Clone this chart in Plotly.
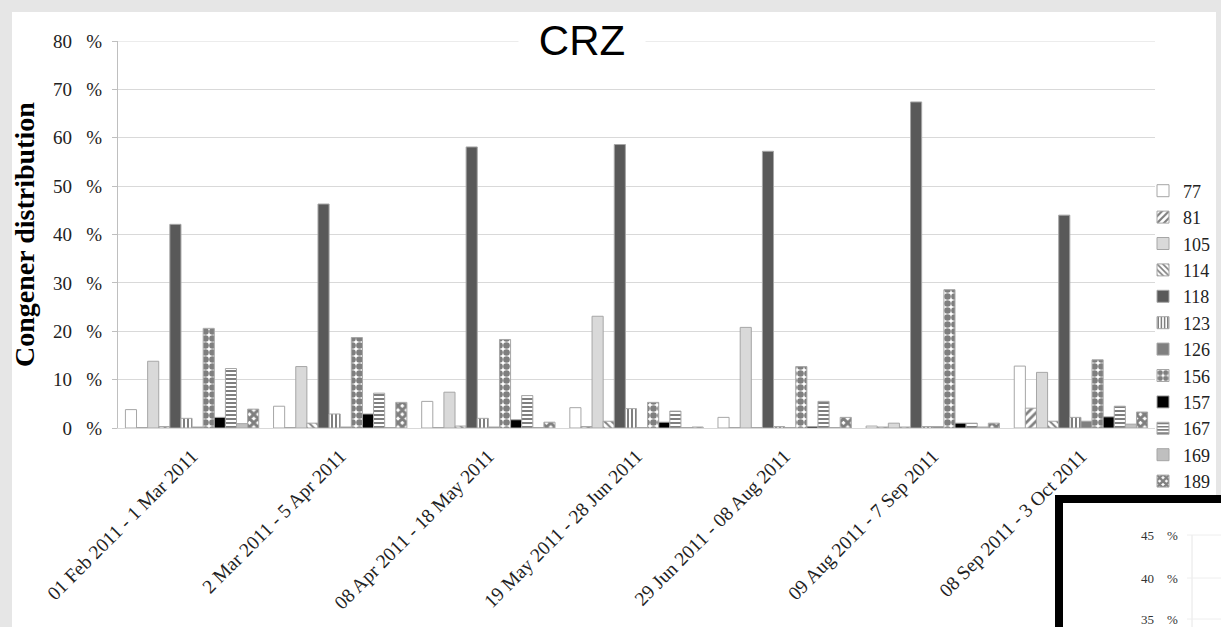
import plotly.graph_objects as go

periods = [
    "01 Feb 2011 - 1 Mar 2011",
    "2 Mar 2011 - 5 Apr 2011",
    "08 Apr 2011 - 18 May 2011",
    "19 May 2011 - 28 Jun 2011",
    "29 Jun 2011 - 08 Aug 2011",
    "09 Aug 2011 - 7 Sep 2011",
    "08 Sep 2011 - 3 Oct 2011",
]

congeners = ["77", "81", "105", "114", "118", "123", "126", "156", "157", "167", "169", "189"]

v77 = [3.8, 4.5, 5.5, 4.2, 2.2, 0.4, 12.8]
v81 = [0.1, 0.1, 0.1, 0.3, 0.1, 0.2, 4.1]
v105 = [13.8, 12.7, 7.4, 23.1, 20.8, 1.0, 11.5]
v114 = [0.3, 1.0, 0.4, 1.4, 0.1, 0.2, 1.4]
v118 = [42.1, 46.3, 58.1, 58.6, 57.2, 67.4, 44.0]
v123 = [2.0, 2.9, 2.0, 4.0, 0.3, 0.3, 2.2]
v126 = [0.2, 0.2, 0.2, 0.1, 0.1, 0.3, 1.4]
v156 = [20.6, 18.7, 18.3, 5.3, 12.7, 28.6, 14.1]
v157 = [2.2, 2.9, 1.7, 1.2, 0.3, 1.0, 2.3]
v167 = [12.3, 7.2, 6.7, 3.5, 5.5, 1.0, 4.5]
v169 = [0.9, 0.1, 0.1, 0.1, 0.1, 0.2, 0.8]
v189 = [3.9, 5.3, 1.2, 0.2, 2.2, 1.0, 3.3]

values = [v77, v81, v105, v114, v118, v123, v126, v156, v157, v167, v169, v189]

y_ticks = [0, 10, 20, 30, 40, 50, 60, 70, 80]
NB = "\u00a0"
y_ticktext = [f"{t}{NB * 3}%" for t in y_ticks]
inset_ticks = ["45", "40", "35"]

styles = {
    "77": dict(color="#ffffff"),
    "81": dict(color="#ffffff", pattern=dict(shape="/", fgcolor="#000000", bgcolor="#ffffff", size=6, solidity=0.45)),
    "105": dict(color="#d9d9d9"),
    "114": dict(color="#ffffff", pattern=dict(shape="\\", fgcolor="#000000", bgcolor="#ffffff", size=5, solidity=0.4)),
    "118": dict(color="#595959"),
    "123": dict(color="#ffffff", pattern=dict(shape="|", fgcolor="#000000", bgcolor="#ffffff", size=4, solidity=0.5)),
    "126": dict(color="#808080"),
    "156": dict(color="#ffffff", pattern=dict(shape=".", fgcolor="#000000", bgcolor="#ffffff", size=7, solidity=0.7)),
    "157": dict(color="#000000"),
    "167": dict(color="#ffffff", pattern=dict(shape="-", fgcolor="#000000", bgcolor="#ffffff", size=4, solidity=0.5)),
    "169": dict(color="#bfbfbf"),
    "189": dict(color="#ffffff", pattern=dict(shape="x", fgcolor="#000000", bgcolor="#ffffff", size=6, solidity=0.75)),
}

fig = go.Figure()
for name, vals in zip(congeners, values):
    st = styles[name]
    marker = dict(color=st["color"], line=dict(color="#a6a6a6", width=1))
    if "pattern" in st:
        marker["pattern"] = st["pattern"]
    fig.add_trace(go.Bar(name=name, x=periods, y=vals, marker=marker))

W, H = 1221, 627
L, R, T, B = 118, 66, 41, 199
pw, ph = W - L - R, H - T - B


def px_x(x):
    return (x - L) / pw


def px_y(y):
    return (H - B - y) / ph


SERIF = "Liberation Serif, Times New Roman, serif"

shapes = [
    # white card over gray page
    dict(type="rect", xref="paper", yref="paper", x0=px_x(12), x1=px_x(1216), y0=px_y(640), y1=px_y(12),
         fillcolor="#ffffff", line=dict(width=0), layer="below"),
    # top gridline at 80 %
    dict(type="line", xref="paper", yref="y", x0=0, x1=1, y0=80, y1=80,
         line=dict(color="#d9d9d9", width=1), layer="below"),
    # inset panel
    dict(type="rect", xref="paper", yref="paper", x0=px_x(1059), x1=px_x(1240), y0=px_y(650), y1=px_y(499),
         fillcolor="#ffffff", line=dict(color="#000000", width=8), layer="above"),
    dict(type="line", xref="paper", yref="paper", x0=px_x(1192), x1=px_x(1192), y0=px_y(627), y1=px_y(535),
         line=dict(color="#e6e6e6", width=1), layer="above"),
]
annotations = [
    dict(text="CRZ", xref="paper", yref="paper", x=px_x(582), y=px_y(40), showarrow=False,
         font=dict(family="Liberation Sans, Arial", size=42, color="#000000"),
         bgcolor="#ffffff", borderpad=0, xanchor="center", yanchor="middle",
         width=126, height=40),
    dict(text="<b>Congener distribution</b>", xref="paper", yref="paper", x=px_x(25), y=px_y(235),
         showarrow=False, textangle=-90, xanchor="center", yanchor="middle",
         font=dict(family=SERIF, size=28, color="#000000")),
]
for lab, yy in zip(inset_ticks, [535, 578, 619]):
    shapes.append(dict(type="line", xref="paper", yref="paper", x0=px_x(1187), x1=px_x(1225),
                       y0=px_y(yy), y1=px_y(yy), line=dict(color="#eeeeee", width=1), layer="above"))
    annotations.append(dict(text=f"{lab}{NB * 4}%", xref="paper", yref="paper", x=px_x(1180), y=px_y(yy),
                            showarrow=False, xanchor="right", yanchor="middle",
                            font=dict(family=SERIF, size=13, color="#333333")))

fig.update_layout(
    width=W, height=H,
    margin=dict(l=L, r=R, t=T, b=B, autoexpand=False),
    paper_bgcolor="#e6e6e6",
    plot_bgcolor="#ffffff",
    barmode="group",
    bargap=0.1,
    bargroupgap=0,
    font=dict(family=SERIF, color="#222222"),
    shapes=shapes,
    annotations=annotations,
    legend=dict(
        x=px_x(1143), y=px_y(336), xanchor="left", yanchor="middle",
        font=dict(family=SERIF, size=18, color="#222222"),
        bgcolor="rgba(0,0,0,0)", tracegroupgap=0, itemwidth=30,
    ),
    xaxis=dict(
        tickangle=-45,
        tickfont=dict(family=SERIF, size=19.5, color="#222222"),
        showgrid=False, showline=True, linecolor="#d9d9d9", ticks="",
        ticklabelstandoff=8,
    ),
    yaxis=dict(
        range=[0, 80],
        tickvals=y_ticks, ticktext=y_ticktext,
        tickfont=dict(family=SERIF, size=19, color="#222222"),
        showgrid=True, gridcolor="#d9d9d9", gridwidth=1,
        showline=True, linecolor="#bfbfbf", ticks="outside", ticklen=5, tickcolor="#bfbfbf",
        ticklabelstandoff=6, zeroline=False,
    ),
)

fig.write_html("out.html")
